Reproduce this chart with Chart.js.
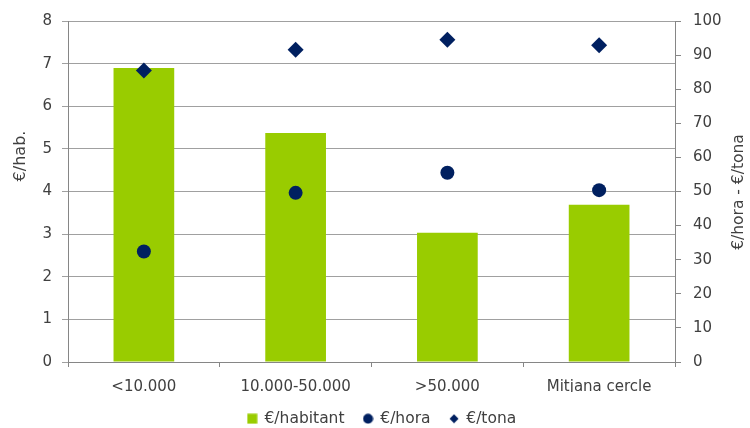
<!DOCTYPE html>
<html>
<head>
<meta charset="utf-8">
<script src="https://cdn.jsdelivr.net/npm/chart.js@4"></script>
<style>
html,body{margin:0;padding:0;background:#fff;}
</style>
</head>
<body>
<canvas id="myChart" width="750" height="428"></canvas>
<script>
// values
var categories=['<10.000','10.000-50.000','>50.000','Mitjana cercle'];
var perHabitant=[6.9,5.37,3.03,3.69];
var perHora=[32.4,49.6,55.5,50.4];
var perTona=[85.5,91.6,94.5,92.9];
var seriesNames=['€/habitant','€/hora','€/tona'];
var leftTitle='€/hab.';
var rightTitle='€/hora - €/tona';

var green='#99cc00';
var navy='#002060';
var textColor='#404040';
var fontFamily='"DejaVu Sans", sans-serif';

function makeIcon(kind,color){
   var c=document.createElement('canvas');
   var s=kind==='diamond'?10:11;
   c.width=s;c.height=s;
   var g=c.getContext('2d');
   g.fillStyle=color;
   if(kind==='rect'){
      g.fillRect(0.5,0.5,10,10);
   }else if(kind==='circle'){
      g.beginPath();g.arc(5.5,5.5,5,0,Math.PI*2);g.fill();
   }else{
      g.beginPath();g.moveTo(5,0.5);g.lineTo(9.5,5);g.lineTo(5,9.5);g.lineTo(0.5,5);g.closePath();g.fill();
   }
   return c;
}
var legendIcons=[makeIcon('rect',green),makeIcon('circle',navy),makeIcon('diamond',navy)];

// axis titles drawn reading upwards on both sides
var axisTitles={
   id:'axisTitles',
   afterLayout:function(chart){
      // legend sits a little right of centre in the original
      chart.legend.left+=7;
      chart.legend.right+=7;
   },
   afterDraw:function(chart){
      var ctx=chart.ctx;
      ctx.save();
      ctx.font='16px '+fontFamily;
      ctx.fillStyle=textColor;
      ctx.textAlign='center';
      ctx.textBaseline='middle';
      ctx.translate(21,156);
      ctx.rotate(-Math.PI/2);
      ctx.fillText(leftTitle,0,0);
      ctx.restore();
      ctx.save();
      ctx.font='15.5px '+fontFamily;
      ctx.fillStyle=textColor;
      ctx.textAlign='center';
      ctx.textBaseline='middle';
      ctx.translate(739,192);
      ctx.rotate(-Math.PI/2);
      ctx.fillText(rightTitle,0,0);
      ctx.restore();
   }
};

const data={
   labels:categories,
   datasets:[{
      type:'bar',
      label:seriesNames[0],
      data:perHabitant,
      backgroundColor:green,
      borderWidth:0,
      yAxisID:'y',
      categoryPercentage:1,
      barPercentage:0.4,
      order:3
   },{
      type:'line',
      label:seriesNames[1],
      data:perHora,
      showLine:false,
      pointStyle:'circle',
      pointRadius:7,
      pointHoverRadius:7,
      pointBorderWidth:0,
      backgroundColor:navy,
      borderColor:navy,
      yAxisID:'y1',
      order:2
   },{
      type:'line',
      label:seriesNames[2],
      data:perTona,
      showLine:false,
      pointStyle:'rectRot',
      pointRadius:8,
      pointHoverRadius:8,
      pointBorderWidth:0,
      backgroundColor:navy,
      borderColor:navy,
      yAxisID:'y1',
      order:1
   }]
};

const config={
   data:data,
   plugins:[axisTitles],
   options:{
      responsive:false,
      animation:false,
      layout:{padding:{top:16,bottom:0,left:0,right:0}},
      plugins:{
         tooltip:{enabled:false},
         legend:{
            position:'bottom',
            maxHeight:36,
            labels:{
               usePointStyle:true,
               boxWidth:9,
               boxHeight:11,
               padding:19,
               color:textColor,
               font:{family:fontFamily,size:15.5},
               generateLabels:function(chart){
                  var items=Chart.defaults.plugins.legend.labels.generateLabels(chart);
                  items.sort(function(a,b){return a.datasetIndex-b.datasetIndex;});
                  items.forEach(function(it){it.pointStyle=legendIcons[it.datasetIndex];});
                  return items;
               }
            }
         }
      },
      scales:{
         x:{
            offset:true,
            grid:{offset:true,drawOnChartArea:false,tickLength:5,color:'#868686'},
            border:{color:'#868686'},
            ticks:{padding:11,color:textColor,font:{family:fontFamily,size:15},maxRotation:0},
            afterFit:function(s){s.height=30;}
         },
         y:{
            position:'left',
            min:0,max:8,
            ticks:{stepSize:1,padding:10,color:textColor,font:{family:fontFamily,size:15}},
            grid:{color:'#a0a0a0',tickLength:6},
            border:{color:'#868686'},
            afterFit:function(s){s.width=68;}
         },
         y1:{
            position:'right',
            min:0,max:100,
            ticks:{stepSize:10,padding:12,crossAlign:'near',color:textColor,font:{family:fontFamily,size:15}},
            grid:{drawOnChartArea:false,tickLength:6,color:'#868686'},
            border:{color:'#868686'},
            afterFit:function(s){s.width=75;}
         }
      }
   }
};
const myChart=new Chart(document.getElementById('myChart'),config);
</script>
</body>
</html>
